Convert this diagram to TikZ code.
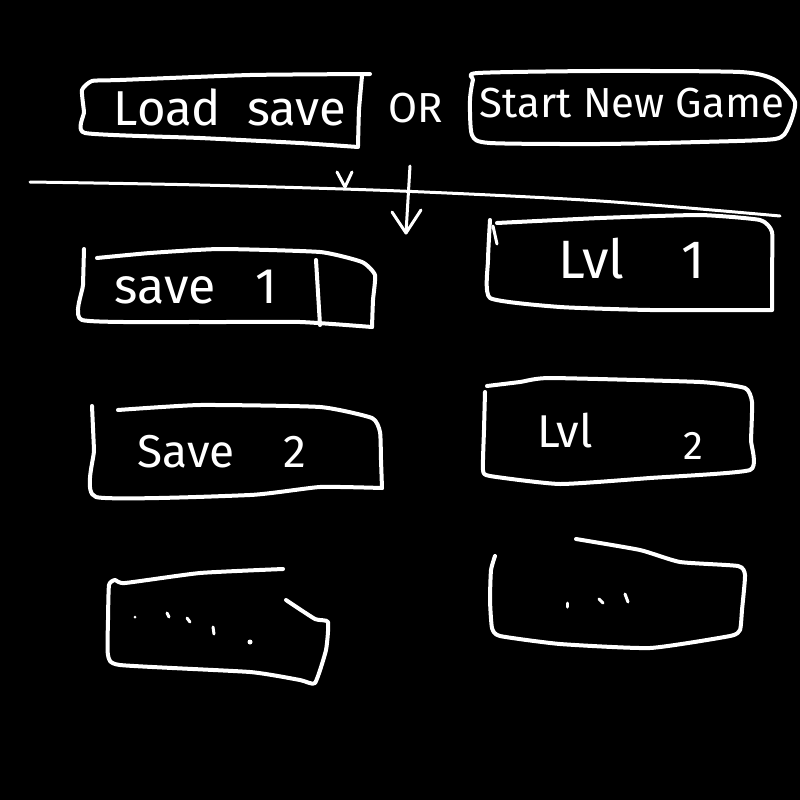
\documentclass[tikz,border=0pt]{standalone}
\usepackage{fontspec}
\setmainfont{Fira Sans}
\begin{document}
\begin{tikzpicture}[x=1pt,y=-1pt,
  hand/.style={draw=white,line width=4pt,line cap=round,line join=round},
  thin/.style={draw=white,line width=3pt,line cap=round,line join=round},
  lbl/.style={text=white,inner sep=0pt,anchor=base},
  dotmark/.style={draw=white,line width=3pt,line cap=round}]
\fill[black] (0,0) rectangle (800,800);
\useasboundingbox (0,0) rectangle (800,800);

% Load save box
\draw[hand] plot[smooth,tension=0.3] coordinates {(370,74) (250,75) (120,80) (92,81) (82,90) (84,112) (85,133) (200,138) (300,143) (358,147)};
\draw[hand] plot[smooth,tension=0.3] coordinates {(362,76) (359,110) (358,146)};
\node[lbl,font=\fontsize{49}{53}\selectfont] (load) at (230,125) {Load\ \ save};

% OR
\node[lbl,font=\fontsize{42}{46}\selectfont] (or) at (416,122) {OR};

% Start New Game box
\draw[hand] plot[smooth cycle,tension=0.4] coordinates {(478,73) (600,71) (740,72) (775,80) (795,102) (788,128) (775,139) (700,142) (600,144) (490,143) (472,135) (470,100) (473,80)};
\node[lbl,font=\fontsize{42}{46}\selectfont] (new) at (632,117) {Start New Game};

% separator line
\draw[thin] plot[smooth,tension=0.5] coordinates {(30,182) (200,185) (400,191) (600,201) (780,216)};
\draw[thin] (337,172) -- (345,187) -- (352,172);

% arrow
\coordinate (atop) at (410,166);
\coordinate (atip) at (406,233);
\draw[thin] (atop) -- (atip);
\draw[thin] (392,212) -- (atip) -- (421,210);

% Save 1 box
\draw[hand] plot[smooth,tension=0.3] coordinates {(84,249) (83,285) (82,320) (200,322) (300,322) (372,327)};
\draw[hand] plot[smooth,tension=0.3] coordinates {(97,258) (150,253) (220,249) (320,252) (362,262) (375,275) (373,300) (372,327)};
\draw[hand] (316,260) -- (320,325);
\node[lbl,font=\fontsize{50}{54}\selectfont] (s1) at (196,303) {save\ \ \ 1};

% Lvl 1 box
\draw[hand] plot[smooth,tension=0.3] coordinates {(490,220) (488,260) (490,298) (560,307) (650,310) (772,310)};
\draw[hand] plot[smooth,tension=0.3] coordinates {(497,223) (600,218) (700,215) (760,220) (772,232) (772,270) (772,310)};
\draw[thin] (493,226) -- (497,244);
\node[lbl,font=\fontsize{54}{58}\selectfont] (l1) at (632,278) {Lvl\ \ \ \ 1};

% Save 2 box
\draw[hand] plot[smooth,tension=0.3] coordinates {(92,406) (94,450) (96,497) (250,495) (320,487) (382,488)};
\draw[hand] plot[smooth,tension=0.3] coordinates {(118,410) (200,405) (320,407) (372,418) (380,432) (381,460) (382,488)};
\node[lbl,font=\fontsize{46}{50}\selectfont] (s2) at (222,467) {Save\ \ \ \ 2};

% Lvl 2 box
\draw[hand] plot[smooth,tension=0.3] coordinates {(487,386) (520,382) (550,378) (700,382) (745,388) (752,402) (751,440) (750,470) (650,478) (560,484) (490,476) (483,470) (484,430) (485,392)};
\node[lbl,font=\fontsize{46}{50}\selectfont] (l2a) at (565,447) {Lvl};
\node[lbl,font=\fontsize{40}{44}\selectfont] (l2b) at (693,459) {2};

% dots box left
\draw[hand] plot[smooth,tension=0.3] coordinates {(286,600) (315,619) (328,622) (326,650) (315,683) (300,680) (250,672) (120,665) (108,655) (108,620) (109,585) (115,580) (125,583) (200,573) (283,569)};
\fill[white] (135,617) circle (1.5);
\draw[dotmark] (167,613) -- (169,617);
\draw[dotmark] (187,618) -- (190,622);
\draw[dotmark] (213,627) -- (214,634);
\fill[white] (250,642) circle (2.5);

% dots box right
\draw[hand] plot[smooth,tension=0.3] coordinates {(576,539) (640,550) (680,562) (738,566) (745,575) (742,610) (740,630) (730,636) (650,648) (560,644) (500,636) (492,628) (490,600) (491,570) (495,556)};
\draw[dotmark] (567,603) -- (567,607);
\draw[dotmark] (599,599) -- (603,603);
\draw[dotmark] (625,594) -- (628,602);
\end{tikzpicture}
\end{document}
